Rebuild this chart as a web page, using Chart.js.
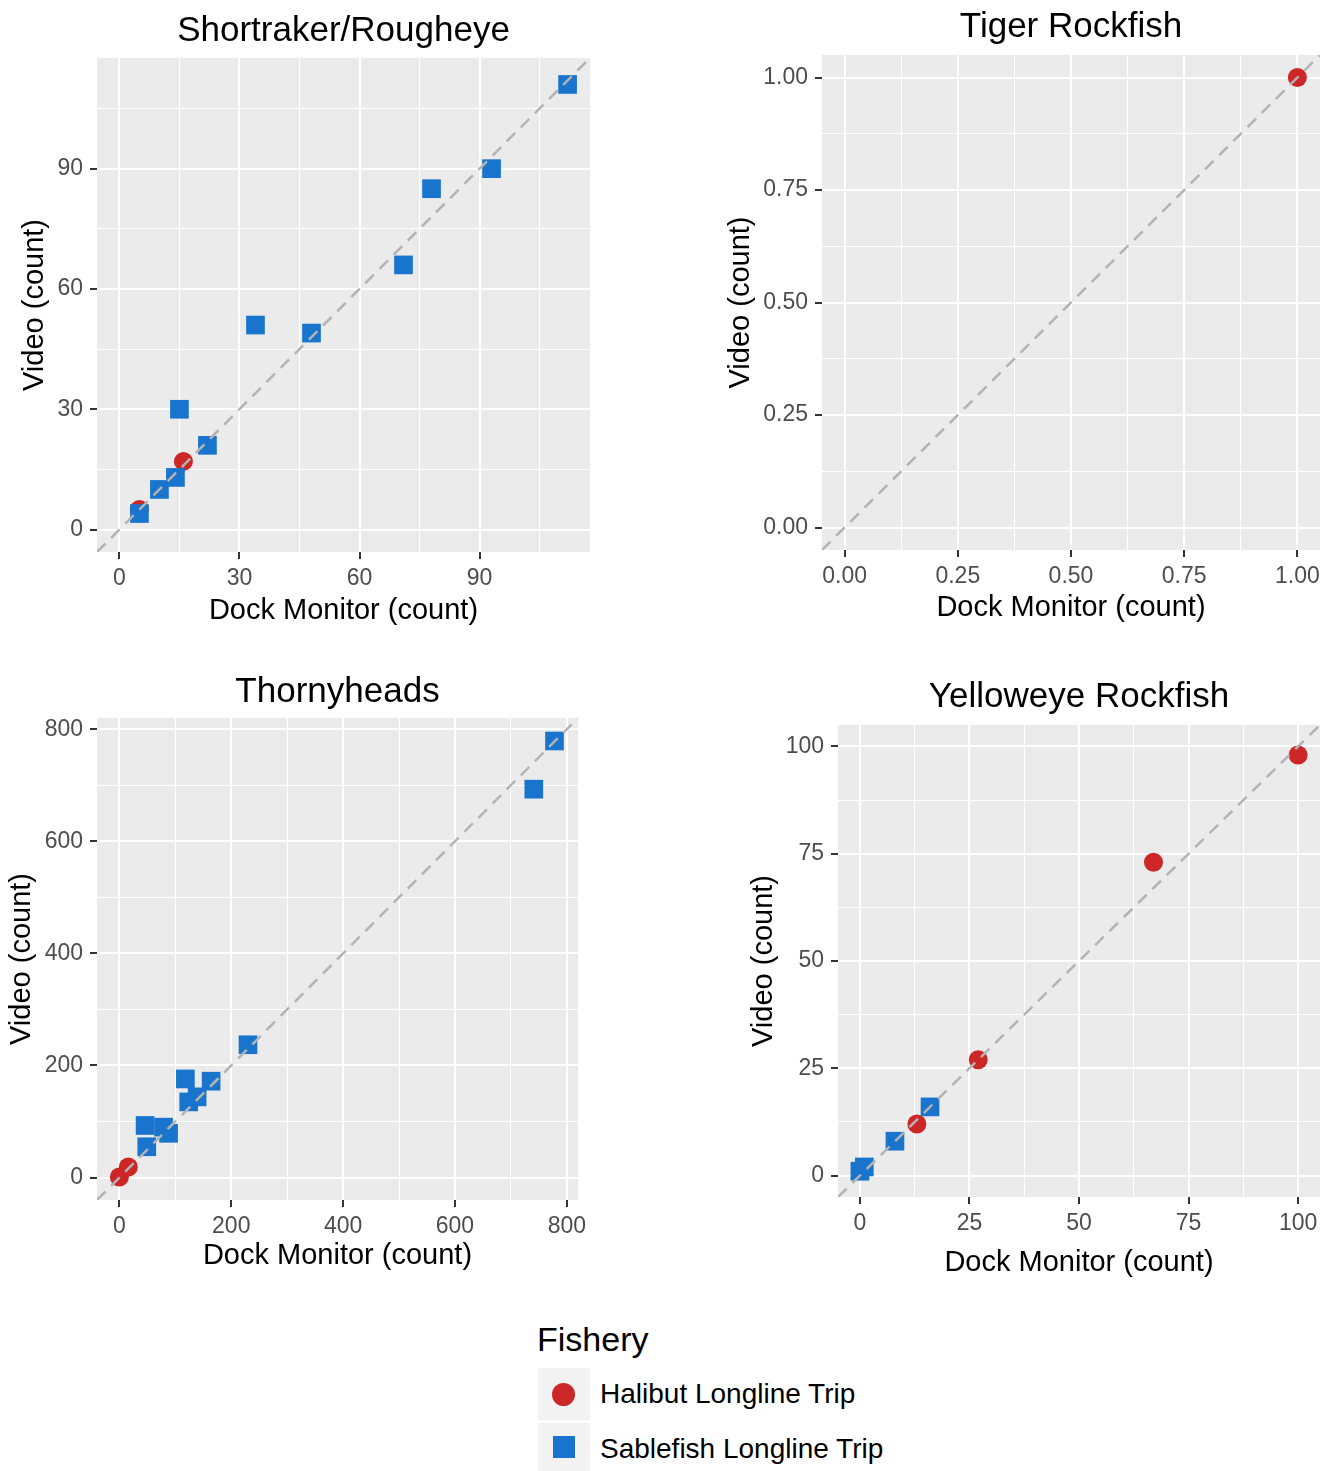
<!DOCTYPE html>
<html>
<head>
<meta charset="utf-8">
<script src="https://cdn.jsdelivr.net/npm/chart.js@4.4.1/dist/chart.umd.min.js"></script>
<style>
  html, body { margin: 0; padding: 0; background: #FFFFFF; }
  body { width: 1323px; height: 1471px; position: relative; overflow: hidden; font-family: "Liberation Sans", Arial, sans-serif; }
  canvas { position: absolute; }
  .leg { position: absolute; color: #000; }
  .key { position: absolute; background: #F2F2F2; }
  .dot { position: absolute; }
</style>
</head>
<body>
<canvas id="c1" width="600" height="640" style="left:0px;top:0px;"></canvas>
<canvas id="c2" width="623" height="640" style="left:700px;top:0px;"></canvas>
<canvas id="c3" width="600" height="640" style="left:0px;top:650px;"></canvas>
<canvas id="c4" width="623" height="640" style="left:700px;top:650px;"></canvas>

<div class="leg" style="left:537px;top:1322px;font-size:34px;line-height:34px;">Fishery</div>
<div class="key" style="left:538px;top:1368px;width:52px;height:52px;"></div>
<div class="dot" style="left:552px;top:1383px;width:23px;height:23px;border-radius:50%;background:#CD2626;"></div>
<div class="leg" style="left:600px;top:1378px;font-size:28px;line-height:32px;">Halibut Longline Trip</div>
<div class="key" style="left:538px;top:1423px;width:52px;height:50px;"></div>
<div class="dot" style="left:553px;top:1436px;width:22px;height:22px;background:#1874CD;"></div>
<div class="leg" style="left:600px;top:1433px;font-size:28px;line-height:32px;">Sablefish Longline Trip</div>

<script>
// ---------------- data ----------------
const fisheries = ['Halibut Longline Trip', 'Sablefish Longline Trip'];

// Shortraker/Rougheye
const srHalibutX   = [5, 16];
const srHalibutY   = [5, 17];
const srSablefishX = [5, 10, 14, 15, 22, 34, 48, 71, 78, 93, 112];
const srSablefishY = [4, 10, 13, 30, 21, 51, 49, 66, 85, 90, 111];
const srMajorTicks = [0, 30, 60, 90];
const srTickLabels = ['0', '30', '60', '90'];
const srMinorTicks = [15, 45, 75, 105];
const srLimits     = [-5.6, 117.6];

// Tiger Rockfish
const tigerHalibutX   = [1];
const tigerHalibutY   = [1];
const tigerSablefishX = [];
const tigerSablefishY = [];
const tigerMajorTicks = [0, 0.25, 0.5, 0.75, 1];
const tigerTickLabels = ['0.00', '0.25', '0.50', '0.75', '1.00'];
const tigerMinorTicks = [0.125, 0.375, 0.625, 0.875];
const tigerLimits     = [-0.05, 1.05];

// Thornyheads
const thornyHalibutX   = [0, 16];
const thornyHalibutY   = [1, 19];
const thornySablefishX = [46, 49, 79, 88, 118, 124, 139, 164, 230, 741, 778];
const thornySablefishY = [93, 55, 90, 79, 176, 135, 144, 172, 237, 693, 779];
const thornyMajorTicks = [0, 200, 400, 600, 800];
const thornyTickLabels = ['0', '200', '400', '600', '800'];
const thornyMinorTicks = [100, 300, 500, 700];
const thornyLimits     = [-40, 820];

// Yelloweye Rockfish
const yeHalibutX   = [13, 27, 67, 100];
const yeHalibutY   = [12, 27, 73, 98];
const yeSablefishX = [0, 1, 8, 16];
const yeSablefishY = [1, 2, 8, 16];
const yeMajorTicks = [0, 25, 50, 75, 100];
const yeTickLabels = ['0', '25', '50', '75', '100'];
const yeMinorTicks = [12.5, 37.5, 62.5, 87.5];
const yeLimits     = [-5, 105];

// ---------------- styling ----------------
const FONT = '"Liberation Sans", Arial, sans-serif';
const RED = '#CD2626';
const BLUE = '#1874CD';

const panelBg = {
  id: 'panelBg',
  beforeDraw(chart) {
    const a = chart.chartArea;
    const ctx = chart.ctx;
    ctx.save();
    ctx.fillStyle = '#EBEBEB';
    ctx.fillRect(a.left, a.top, a.right - a.left, a.bottom - a.top);
    ctx.restore();
  }
};

function zip(xs, ys) { return xs.map((x, i) => ({ x: x, y: ys[i] })); }

function buildTicks(major, minor) {
  return major.map(v => ({ value: v, minor: false }))
    .concat(minor.map(v => ({ value: v, minor: true })))
    .sort((a, b) => a.value - b.value);
}

function axis(p, horizontal) {
  return {
    type: 'linear',
    position: horizontal ? 'bottom' : 'left',
    min: p.limits[0],
    max: p.limits[1],
    afterBuildTicks: s => { s.ticks = buildTicks(p.major, p.minor); },
    afterFit: s => {
      if (horizontal) { s.height = p.xAxisH; s.paddingLeft = 0; s.paddingRight = 0; }
      else { s.width = p.yAxisW; s.paddingTop = 0; s.paddingBottom = 0; }
    },
    ticks: {
      autoSkip: false, maxRotation: 0, minRotation: 0,
      padding: horizontal ? 6 : 7,
      color: '#4D4D4D',
      font: { family: FONT, size: 23 },
      callback: (v, i, ticks) => {
        const t = ticks[i];
        if (t.minor) return '';
        return p.labels[p.major.indexOf(t.value)];
      }
    },
    grid: {
      color: '#FFFFFF',
      lineWidth: c => (c.tick && c.tick.minor) ? 1 : 2,
      drawTicks: true,
      tickLength: 7,
      tickWidth: 2,
      tickColor: c => (c.tick && c.tick.minor) ? 'rgba(0,0,0,0)' : '#333333'
    },
    border: { display: false },
    title: {
      display: true,
      text: horizontal ? 'Dock Monitor (count)' : 'Video (count)',
      color: '#000000',
      font: { family: FONT, size: 29 },
      padding: horizontal ? { top: 0, bottom: p.xTitlePad } : { top: p.yTitlePad, bottom: 0 }
    }
  };
}

function makePanel(id, p) {
  new Chart(document.getElementById(id), {
    type: 'scatter',
    data: {
      datasets: [
        { label: fisheries[0], data: zip(p.hx, p.hy), pointStyle: 'circle', pointRadius: 9.5, pointHoverRadius: 9.5,
          pointBackgroundColor: RED, backgroundColor: RED, pointBorderWidth: 0, order: 2 },
        { label: fisheries[1], data: zip(p.sx, p.sy), pointStyle: 'rect', pointRadius: 13.2, pointHoverRadius: 13.2,
          pointBackgroundColor: BLUE, backgroundColor: BLUE, pointBorderWidth: 0, order: 1 },
        { type: 'line', label: '1:1', data: [{ x: p.limits[0], y: p.limits[0] }, { x: p.limits[1], y: p.limits[1] }],
          borderColor: '#B3B3B3', borderWidth: 2.5, borderDash: [12, 8], pointRadius: 0, fill: false, order: 0 }
      ]
    },
    options: {
      responsive: false,
      animation: false,
      events: [],
      layout: { autoPadding: false, padding: { left: 0, right: p.padRight, top: 0, bottom: 0 } },
      scales: { x: axis(p, true), y: axis(p, false) },
      plugins: {
        legend: { display: false },
        tooltip: { enabled: false },
        title: {
          display: true, text: p.title, fullSize: false, color: '#000000',
          font: { family: FONT, size: 35, weight: 'normal' },
          padding: { top: p.titleTop, bottom: p.titleBottom }
        }
      }
    },
    plugins: [panelBg]
  });
}

makePanel('c1', { title: 'Shortraker/Rougheye', hx: srHalibutX, hy: srHalibutY, sx: srSablefishX, sy: srSablefishY,
  major: srMajorTicks, labels: srTickLabels, minor: srMinorTicks, limits: srLimits,
  yAxisW: 97, xAxisH: 88, padRight: 10, titleTop: 10, titleBottom: 6, xTitlePad: 11.6, yTitlePad: 17.6 });

makePanel('c2', { title: 'Tiger Rockfish', hx: tigerHalibutX, hy: tigerHalibutY, sx: tigerSablefishX, sy: tigerSablefishY,
  major: tigerMajorTicks, labels: tigerTickLabels, minor: tigerMinorTicks, limits: tigerLimits,
  yAxisW: 122, xAxisH: 90, padRight: 3, titleTop: 6, titleBottom: 7, xTitlePad: 14.6, yTitlePad: 23.6 });

makePanel('c3', { title: 'Thornyheads', hx: thornyHalibutX, hy: thornyHalibutY, sx: thornySablefishX, sy: thornySablefishY,
  major: thornyMajorTicks, labels: thornyTickLabels, minor: thornyMinorTicks, limits: thornyLimits,
  yAxisW: 97, xAxisH: 90, padRight: 22, titleTop: 21, titleBottom: 5, xTitlePad: 16.6, yTitlePad: 4.6 });

makePanel('c4', { title: 'Yelloweye Rockfish', hx: yeHalibutX, hy: yeHalibutY, sx: yeSablefishX, sy: yeSablefishY,
  major: yeMajorTicks, labels: yeTickLabels, minor: yeMinorTicks, limits: yeLimits,
  yAxisW: 138, xAxisH: 93, padRight: 3, titleTop: 26, titleBottom: 7, xTitlePad: 9.6, yTitlePad: 46.6 });
</script>
</body>
</html>
